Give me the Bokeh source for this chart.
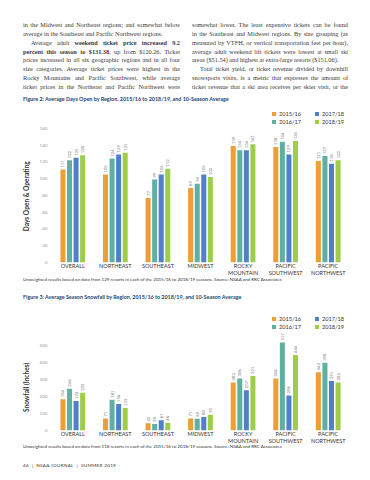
from math import pi
from bokeh.plotting import figure
from bokeh.models import (ColumnDataSource, FactorRange, Range1d, Legend, LegendItem,
                          Div, FixedTicker)
from bokeh.layouts import column
from bokeh.transform import dodge
from bokeh.embed import file_html
from bokeh.resources import INLINE
from bokeh.core.properties import value

# ---------------- data ----------------
regions = ["OVERALL", "NORTHEAST", "SOUTHEAST", "MIDWEST",
           "ROCKY\nMOUNTAIN", "PACIFIC\nSOUTHWEST", "PACIFIC\nNORTHWEST"]
seasons = ["2015/16", "2016/17", "2017/18", "2018/19"]

days_1516 = [111, 105, 77, 89, 139, 138, 121]
days_1617 = [122, 124, 99, 94, 134, 144, 127]
days_1718 = [125, 129, 105, 105, 134, 129, 118]
days_1819 = [128, 131, 112, 102, 141, 145, 122]

snow_1516 = [184, 71, 42, 71, 283, 306, 342]
snow_1617 = [246, 181, 38, 69, 306, 517, 398]
snow_1718 = [174, 156, 61, 80, 237, 206, 291]
snow_1819 = [222, 133, 46, 92, 321, 444, 283]

days_ticks = [0, 20, 40, 60, 80, 100, 120, 140, 160]
snow_ticks = [0, 100, 200, 300, 400, 500]

title_days = "Figure 2: Average Days Open by Region, 2015/16 to 2018/19, and 10-Season Average"
title_snow = "Figure 3: Average Season Snowfall by Region, 2015/16 to 2018/19, and 10-Season Average"
note_days = "Unweighted results based on data from 129 resorts in each of the 2015/16 to 2018/19 seasons. Source: NSAA and RRC Associates"
note_snow = "Unweighted results based on data from 118 resorts in each of the 2015/16 to 2018/19 seasons. Source: NSAA and RRC Associates"
footer = "46 &nbsp;|&nbsp; NSAA JOURNAL &nbsp;|&nbsp; SUMMER 2019"

left_lines = [
    ("in the Midwest and Northeast regions; and somewhat below", "j"),
    ("average in the Southeast and Pacific Northwest regions.", "l"),
    ("<span style='padding-left:8px'></span>Average adult <b>weekend ticket price increased 9.2</b>", "j"),
    ("<b>percent this season to $131.38</b>, up from $120.26. Ticket", "j"),
    ("prices increased in all six geographic regions and in all four", "j"),
    ("size categories. Average ticket prices were highest in the", "j"),
    ("Rocky Mountains and Pacific Southwest, while average", "j"),
    ("ticket prices in the Northeast and Pacific Northwest were", "j"),
]
right_lines = [
    ("somewhat lower. The least expensive tickets can be found", "j"),
    ("in the Southeast and Midwest regions. By size grouping (as", "j"),
    ("measured by VTFH, or vertical transportation feet per hour),", "j"),
    ("average adult weekend lift tickets were lowest at small ski", "j"),
    ("areas ($51.54) and highest at extra-large resorts ($151.06).", "l"),
    ("<span style='padding-left:8px'></span>Total ticket yield, or ticket revenue divided by downhill", "j"),
    ("snowsports visits, is a metric that expresses the amount of", "j"),
    ("ticket revenue that a ski area receives per skier visit, or the", "j"),
]

colors = ["#EE9E37", "#5FAFA3", "#4F80C8", "#9ECD4B"]
W = 354
FONT = "Lato"
NB = "\u00a0"


def text_div(html, height, top, size, color="#333", weight="normal", family=FONT,
             left=15, spacing="0px", mtop=0):
    inner = (f"<div style='position:relative;width:{W}px;height:{height}px;'>"
             f"<div style='position:absolute;left:{left}px;top:{top}px;white-space:nowrap;"
             f"font-family:\"{family}\";font-size:{size}px;line-height:{size*1.3}px;"
             f"color:{color};font-weight:{weight};letter-spacing:{spacing};'>{html}</div></div>")
    return Div(text=inner, width=W, height=height, margin=(mtop, 0, 0, 0))


def body_div():
    def col(lines, left, width):
        rows = []
        for t, mode in lines:
            last = "justify" if mode == "j" else "left"
            rows.append(f"<div style='height:8.9px;white-space:nowrap;text-align:justify;"
                        f"text-align-last:{last};'>{t}</div>")
        return (f"<div style='position:absolute;left:{left}px;top:12.9px;width:{width}px;'>"
                + "".join(rows) + "</div>")
    html = (f"<div style='position:relative;width:{W}px;height:86px;font-family:\"Liberation Serif\";"
            f"font-size:6.3px;line-height:8.9px;letter-spacing:-0.02px;color:#3a3a3a;'>"
            + col(left_lines, 15, 157) + col(right_lines, 184, 156) + "</div>")
    return Div(text=html, width=W, height=86, margin=0)


def chart(series, ticks, ymax, height, b_top, ylabel, legend_y):
    p = figure(x_range=FactorRange(factors=regions), y_range=Range1d(0, ymax),
               width=W, height=height, output_backend="svg", toolbar_location=None,
               min_border_left=43, min_border_right=13, min_border_top=b_top,
               min_border_bottom=0, margin=0)
    p.outline_line_color = None
    p.background_fill_color = None
    p.border_fill_color = None
    p.xgrid.grid_line_color = None
    p.ygrid.ticker = FixedTicker(ticks=[0])
    p.ygrid.grid_line_color = "#e6e6e6"

    data = {"region": regions}
    for i, s in enumerate(series):
        data[f"v{i}"] = s
        data[f"t{i}"] = [str(v) for v in s]
    src = ColumnDataSource(data)

    offsets = [-0.231, -0.077, 0.077, 0.231]
    rends = []
    for i in range(4):
        r = p.vbar(x=dodge("region", offsets[i], range=p.x_range), top=f"v{i}", width=0.118,
                   source=src, fill_color=colors[i], line_color=None)
        rends.append(r)
        p.text(x=dodge("region", offsets[i], range=p.x_range), y=f"v{i}", text=f"t{i}",
               source=src, angle=pi / 2, text_align="left", text_baseline="middle",
               y_offset=-2, text_font=value(FONT), text_font_size="4.2px", text_color="#777")

    for ax in (p.xaxis[0], p.yaxis[0]):
        ax.axis_line_color = None
        ax.major_tick_line_color = None
        ax.minor_tick_line_color = None
        ax.major_tick_out = 0
        ax.major_tick_in = 0
        ax.minor_tick_out = 0
        ax.minor_tick_in = 0

    p.yaxis.ticker = FixedTicker(ticks=ticks)
    p.yaxis.major_label_text_font = FONT
    p.yaxis.major_label_text_font_size = "4.6px"
    p.yaxis.major_label_text_color = "#999"
    p.yaxis.major_label_standoff = 4
    p.yaxis.axis_label = ylabel
    p.yaxis.axis_label_text_font = FONT
    p.yaxis.axis_label_text_font_style = "bold"
    p.yaxis.axis_label_text_font_size = "6.6px"
    p.yaxis.axis_label_text_color = "#333"
    p.yaxis.axis_label_standoff = 7

    p.xaxis.major_label_text_font = FONT
    p.xaxis.major_label_text_font_size = "5.5px"
    p.xaxis.major_label_text_color = "#333"
    p.xaxis.major_label_standoff = 0

    for k, (a, b) in enumerate([(0, 1), (2, 3)]):
        lg = Legend(items=[LegendItem(label=seasons[a], renderers=[rends[a]]),
                           LegendItem(label=seasons[b], renderers=[rends[b]])],
                    location=(220 + 43 * k, legend_y), orientation="vertical",
                    padding=0, margin=0, spacing=1, glyph_width=5, glyph_height=5,
                    label_standoff=3, label_height=6, label_text_font=FONT,
                    label_text_font_size="5.6px", label_text_color="#333",
                    border_line_color=None, background_fill_alpha=0)
        p.add_layout(lg, "center")
    return p


# fig1: page 106-278, frame 107-255 ; fig2: page 303-444, frame 308-421
# (trailing no-break spaces keep each axis title centred on its tick span, not on the legend area)
p1 = chart([days_1516, days_1617, days_1718, days_1819], days_ticks, 185, 172, 1,
           "Days Open & Operating" + NB * 14, 137)
p2 = chart([snow_1516, snow_1617, snow_1718, snow_1819], snow_ticks, 706, 141, 5,
           "Snowfall (Inches)" + NB * 21, 100)

layout = column(
    body_div(),
    text_div(title_days, 12, 1.5, 5.4, color="#22446f", weight="bold"),
    p1,
    text_div(note_days, 16, 2.8, 4.5, mtop=-4),
    text_div(title_snow, 15, 3.5, 5.4, color="#22446f", weight="bold"),
    p2,
    text_div(note_snow, 14, 2.1, 4.5, mtop=-4),
    text_div(footer, 20, 6, 4.6, spacing="0.3px"),
    spacing=0, margin=(8, 8, 0, 8),
)

open("out.html", "w").write(file_html(layout, INLINE))
